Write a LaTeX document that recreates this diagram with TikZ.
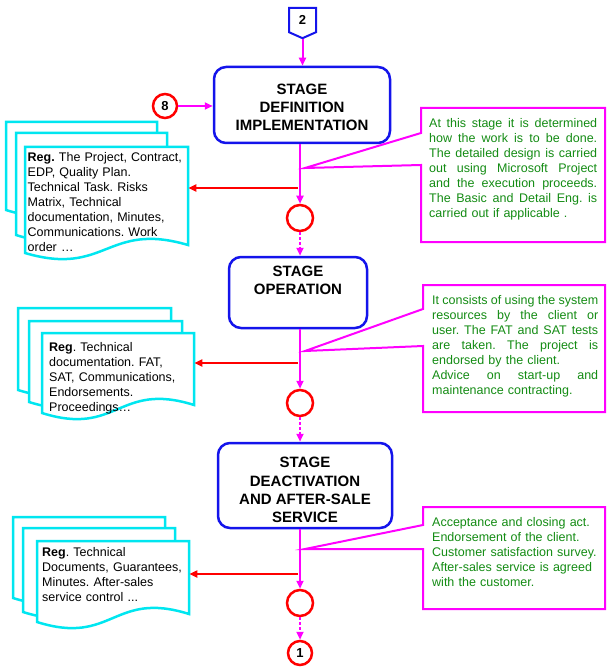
\documentclass[tikz,border=0pt]{standalone}
\usepackage{fontspec}
\setmainfont{Liberation Sans}
\usetikzlibrary{arrows.meta,shapes.symbols}

\definecolor{stageblue}{RGB}{20,20,235}
\definecolor{linkpink}{RGB}{255,0,255}
\definecolor{regred}{RGB}{255,0,0}
\definecolor{sheetcyan}{RGB}{0,230,240}
\definecolor{notegreen}{RGB}{20,140,20}

% one justified line of a note
\newcommand{\jl}[2][168pt]{\leavevmode\hbox to #1{\spaceskip=.28em plus 2em minus .05em\relax #2}\\}
% one document sheet: left x, right x, top y, bottom y
\newcommand{\docsheet}[4]{%
  \draw[sheet] (#1,#3) -- (#2,#3) -- (#2,{#4-8})
    .. controls ({(#1+#2)/2},{#4-32}) and ({(#1+#2)/2},{#4+24}) .. (#1,#4) -- cycle;}

\tikzset{
  stage/.style={draw=stageblue, line width=2.5pt, rounded corners=12pt, fill=white,
    align=center, inner sep=0pt, font=\fontsize{15}{18.3}\selectfont\bfseries},
  joint/.style={circle, draw=regred, line width=2.5pt, minimum size=26pt, inner sep=0pt,
    fill=white, font=\fontsize{13}{13}\selectfont\bfseries},
  offpage/.style={signal, signal to=south, signal pointer angle=132, draw=stageblue,
    line width=2pt, minimum width=27pt, minimum height=26pt, inner sep=0pt,
    font=\fontsize{13}{13}\selectfont\bfseries},
  sheet/.style={draw=sheetcyan, line width=2.5pt, fill=white},
  regtext/.style={anchor=north west, align=left,
    font=\fontsize{12.5}{15}\selectfont\frenchspacing},
  note/.style={draw=linkpink, line width=2pt, fill=white},
  notetext/.style={anchor=north west, inner sep=0pt, align=left, text=notegreen,
    font=\fontsize{12.5}{15}\selectfont\frenchspacing},
  flow/.style={draw=linkpink, line width=2pt, -{Triangle[length=8pt,width=7pt]}},
  dotflow/.style={flow, dash pattern=on 2.5pt off 2.5pt},
  regarrow/.style={draw=regred, line width=2pt, -{Triangle[length=8pt,width=7pt]}},
}

\begin{document}
\begin{tikzpicture}[x=1pt,y=-1pt]
\useasboundingbox (0,0) rectangle (607,668);

% stages
\node[stage, minimum width=176pt, minimum height=76pt] (def) at (302,105)
  {\rule{0pt}{15pt}STAGE\\DEFINITION\\IMPLEMENTATION};
\node[stage, minimum width=138pt, minimum height=71pt] (oper) at (298,292.5)
  {STAGE\\OPERATION\\\strut};
\node[stage, minimum width=174pt, minimum height=85pt] (deact) at (305,485.5)
  {\rule{0pt}{20pt}STAGE\\DEACTIVATION\\AND AFTER-SALE\\SERVICE};

% links and joints
\node[offpage] (off2) at (302.5,20) {2};
\node[joint, minimum size=24pt] (in8) at (165,106) {8};
\node[joint] (j1) at (300,218) {};
\node[joint] (j2) at (300,403) {};
\node[joint] (j3) at (300,603) {};
\node[joint, minimum size=24pt] (off1) at (300,653) {1};

\draw[flow] (off2.south) -- (off2.south |- def.north);
\draw[flow] (in8.east) -- (in8.east -| def.west);
\draw[flow] (j1 |- def.south) -- (j1.north);
\draw[dotflow] (j1.south) -- (j1 |- oper.north);
\draw[flow] (j2 |- oper.south) -- (j2.north);
\draw[dotflow] (j2.south) -- (j2 |- deact.north);
\draw[flow] (j3 |- deact.south) -- (j3.north);
\draw[dotflow] (j3.south) -- (off1.north);

% registers
\docsheet{6}{157}{122}{210}
\docsheet{16}{167}{133}{235}
\docsheet{25}{188}{147}{253}
\node[regtext, inner xsep=2.5pt, inner ysep=5pt, text width=158pt] (reg1) at (25,147)
  {\textbf{Reg.} The Project, Contract,\\EDP, Quality Plan.\\Technical Task. Risks\\Matrix, Technical\\documentation, Minutes,\\Communications. Work\\order …};

\docsheet{18}{171}{308}{390}
\docsheet{29}{182}{321}{402}
\docsheet{42}{194}{333}{413}
\node[regtext, inner xsep=7pt, inner ysep=9pt, text width=138pt] (reg2) at (42,333)
  {\textbf{Reg}. Technical\\documentation. FAT,\\SAT, Communications,\\Endorsements.\\Proceedings…};

\docsheet{13}{165}{517}{598}
\docsheet{23}{175}{528}{612}
\docsheet{37}{189}{541}{622}
\node[regtext, inner xsep=5pt, inner ysep=6pt, text width=142pt] (reg3) at (37,541)
  {\textbf{Reg}. Technical\\Documents, Guarantees,\\Minutes. After-sales\\service control ...};

\coordinate (r1) at (298,188);
\coordinate (r2) at (298,363);
\coordinate (r3) at (298,574);
\draw[regarrow] (r1) -- (r1 -| reg1.east);
\draw[regarrow] (r2) -- (r2 -| reg2.east);
\draw[regarrow] (r3) -- (r3 -| reg3.east);

% notes
\draw[note] (421,108) -- (605,108) -- (605,242) -- (421,242) -- (421,165) -- (305,168) -- (421,133) -- cycle;
\node[notetext, text width=168pt] (note1) at (429,118)
  {\jl{At this stage it is determined}\jl{how the work is to be done.}\jl{The detailed design is carried}\jl{out using Microsoft Project}\jl{and the execution proceeds.}\jl{The Basic and Detail Eng. is}carried out if applicable .};

\draw[note] (423,285) -- (605,285) -- (605,412) -- (423,412) -- (423,346) -- (305,351) -- (423,309) -- cycle;
\node[notetext, text width=166pt] (note2) at (432,295)
  {\jl[166pt]{It consists of using the system}\jl[166pt]{resources by the client or}\jl[166pt]{user. The FAT and SAT tests}\jl[166pt]{are taken. The project is}endorsed by the client.\\\jl[166pt]{Advice on start-up and}maintenance contracting.};

\draw[note] (423,507) -- (605,507) -- (605,609) -- (423,609) -- (423,549) -- (305,549) -- (423,525) -- cycle;
\node[notetext, text width=168pt] (note3) at (432,517)
  {Acceptance and closing act.\\Endorsement of the client.\\Customer satisfaction survey.\\After-sales service is agreed\\with the customer.};
\end{tikzpicture}
\end{document}
